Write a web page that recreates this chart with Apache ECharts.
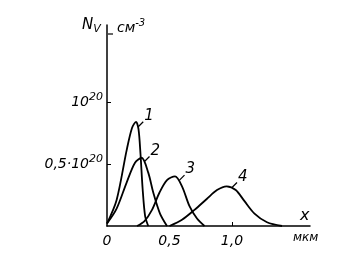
<!DOCTYPE html>
<html><head><meta charset="utf-8">
<script src="https://cdn.jsdelivr.net/npm/echarts@6/dist/echarts.min.js"></script>
<style>html,body{margin:0;padding:0;background:#fff}#c{width:349px;height:265px}</style>
</head><body><div id="c"></div>
<script>
// values: x in мкм, y in units of 10^20 см^-3
const curve1 = [[0,0.02],[0.077,0.21],[0.157,0.61],[0.20,0.79],[0.232,0.84],[0.252,0.78],[0.268,0.58],[0.285,0.30],[0.305,0.08],[0.33,0]];
const curve2 = [[0,0.02],[0.077,0.14],[0.157,0.35],[0.224,0.51],[0.277,0.55],[0.33,0.43],[0.37,0.27],[0.424,0.10],[0.48,0]];
const curve3 = [[0.24,0],[0.30,0.04],[0.36,0.13],[0.42,0.27],[0.48,0.37],[0.544,0.40],[0.60,0.32],[0.66,0.16],[0.72,0.06],[0.78,0]];
const curve4 = [[0.50,0],[0.60,0.05],[0.70,0.13],[0.80,0.22],[0.88,0.29],[0.957,0.32],[1.03,0.29],[1.10,0.20],[1.18,0.10],[1.28,0.03],[1.40,0]];
const curveNames = ['1','2','3','4'];
const labelAt = [[0.25,0.80],[0.30,0.52],[0.58,0.37],[1.0,0.31]];
const xTicks = [0,0.5,1.0];
const xTickLabels = ['0','0,5','1,0'];
const yTicks = [0.5,1.0];
const yTickLabels = ['{a|0,5·10}{s|20}','{a|10}{s|20}'];

const F = 'DejaVu Sans';
const chart = echarts.init(document.getElementById('c'));
const curves = [curve1,curve2,curve3,curve4];
chart.setOption({
  animation:false,
  grid:{left:107,right:39,top:25,bottom:39},
  xAxis:{type:'value',min:0,max:1.624,
    axisLine:{lineStyle:{color:'#000',width:1.5}},
    splitLine:{show:false},
    axisTick:{inside:true,length:4,lineStyle:{color:'#000'},customValues:[1.0]},
    axisLabel:{customValues:xTicks,formatter:v=>{const i=xTicks.findIndex(t=>Math.abs(t-v)<1e-6);return i<0?'':xTickLabels[i];},
      color:'#000',fontFamily:F,fontStyle:'italic',fontSize:14,margin:8}},
  yAxis:{type:'value',min:0,max:1.62,
    axisLine:{show:true,lineStyle:{color:'#000',width:1.5}},
    splitLine:{show:false},
    axisTick:{show:true,inside:true,length:4,lineStyle:{color:'#000'},customValues:yTicks},
    axisLabel:{customValues:yTicks,formatter:v=>{const i=yTicks.findIndex(t=>Math.abs(t-v)<1e-6);return i<0?'':yTickLabels[i];},
      margin:4,
      rich:{a:{color:'#000',fontFamily:F,fontStyle:'italic',fontSize:14},
            s:{color:'#000',fontFamily:F,fontStyle:'italic',fontSize:11,verticalAlign:'top',padding:[0,0,10,0]}}}},
  series:curves.map(d=>({type:'line',smooth:0.3,symbol:'none',
    lineStyle:{color:'#000',width:1.8},data:d}))
});
const g = [
  {type:'text',left:82,top:18,style:{text:'{a|N}{b|V}',rich:{a:{fontFamily:F,fontStyle:'italic',fontSize:15,fill:'#000'},b:{fontFamily:F,fontStyle:'italic',fontSize:11,fill:'#000',padding:[8,0,0,0]}}}},
  {type:'text',left:117,top:18,style:{text:'{a|см}{b|-3}',rich:{a:{fontFamily:F,fontStyle:'italic',fontSize:14,fill:'#000'},b:{fontFamily:F,fontStyle:'italic',fontSize:10,fill:'#000',padding:[0,0,10,0]}}}},
  {type:'line',shape:{x1:108,y1:34,x2:113,y2:34},style:{stroke:'#000',lineWidth:1.2}},
  {type:'text',left:300,top:208,style:{text:'x',fontFamily:F,fontStyle:'italic',fontSize:16,fill:'#000'}},
  {type:'text',left:293,top:232,style:{text:'мкм',fontFamily:F,fontStyle:'italic',fontSize:12,fill:'#000'}}
];
labelAt.forEach((p,k)=>{
  const [px,py] = chart.convertToPixel({gridIndex:0},p);
  g.push({type:'line',shape:{x1:px,y1:py,x2:px+5,y2:py-5},style:{stroke:'#000',lineWidth:1.2}});
  g.push({type:'text',x:px+6,y:py-18,style:{text:curveNames[k],fontFamily:F,fontStyle:'italic',fontSize:15,fill:'#000'}});
});
chart.setOption({graphic:g});
</script></body></html>
